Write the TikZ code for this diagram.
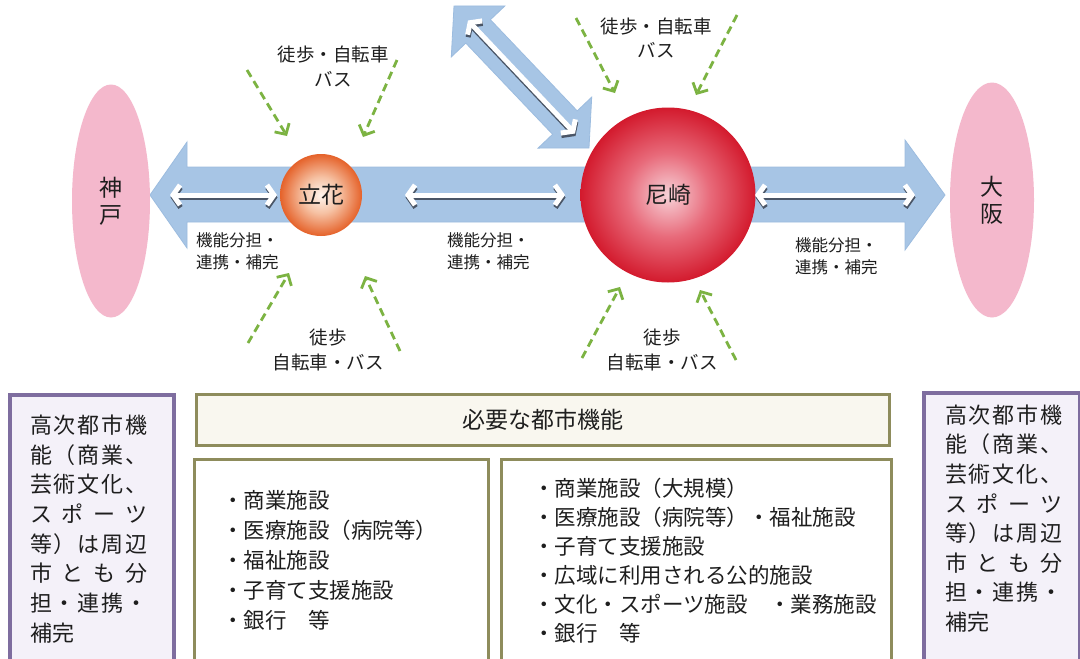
\documentclass[tikz,border=0pt]{standalone}
\usepackage{fontspec}
\setmainfont{Noto Sans CJK JP}
\usetikzlibrary{arrows.meta,calc,shapes.geometric}
\definecolor{bluef}{HTML}{A7C5E5}
\definecolor{bluee}{HTML}{9CBCDF}
\definecolor{pinkf}{HTML}{F4B8CC}
\definecolor{grn}{HTML}{7CB342}
\definecolor{orE}{HTML}{E5622A}
\definecolor{orM}{HTML}{F6C2A4}
\definecolor{orC}{HTML}{FFF5EE}
\definecolor{rdE}{HTML}{D31A2D}
\definecolor{rdM}{HTML}{E86A7A}
\definecolor{rdC}{HTML}{F7D2D8}
\definecolor{purE}{HTML}{7E6D9F}
\definecolor{purF}{HTML}{F4F1F9}
\definecolor{olv}{HTML}{8E8C5C}
\definecolor{crm}{HTML}{F9F7EF}
\definecolor{txt}{HTML}{1E1E1E}
\definecolor{shd}{HTML}{4A5566}
\pgfdeclareradialshading{orball}{\pgfpoint{0bp}{0bp}}{color(0bp)=(orC); color(11bp)=(orM); color(25bp)=(orE); color(50bp)=(orE)}
\pgfdeclareradialshading{rdball}{\pgfpoint{0bp}{0bp}}{color(0bp)=(rdC); color(12bp)=(rdM); color(25bp)=(rdE); color(50bp)=(rdE)}
\begin{document}
\begin{tikzpicture}[x=1pt,y=-1pt,
  blu/.style={fill=bluef, draw=bluee, line width=0.8pt},
  warr/.style={draw=white, line width=5pt, {Straight Barb[length=7pt,width=20pt]}-{Straight Barb[length=7pt,width=20pt]}},
  garr/.style={draw=grn, line width=2.8pt, dash pattern=on 8pt off 5pt, -{Straight Barb[length=8pt,width=17pt]}},
  lbl/.style={font=\fontsize{18.5}{24.5}\selectfont, align=center, text=txt, inner sep=0pt},
  small/.style={font=\fontsize{16.5}{22}\selectfont, align=left, text=txt, inner sep=0pt, anchor=west},
  city/.style={ellipse, fill=pinkf, inner sep=0pt, align=center, text=txt, font=\fontsize{23}{27}\selectfont},
  pbox/.style={draw=purE, line width=3.5pt, fill=purF, anchor=north west, inner sep=0pt},
  obox/.style={draw=olv, line width=3pt, anchor=north west, inner sep=0pt},
  ptext/.style={font=\fontsize{22}{25}\selectfont, text=txt, anchor=west, inner sep=0pt},
  ltext/.style={font=\fontsize{21.5}{25}\selectfont, text=txt, anchor=west, inner sep=0pt}]
\useasboundingbox (0,0) rectangle (1080,659);
\clip (0,0) rectangle (1080,659);
\fill[white] (0,0) rectangle (1080,659);

% big blue arrows
\filldraw[blu] (150,195) -- (187,142) -- (187,167) -- (905,167) -- (905,140) -- (945,195)
  -- (905,250) -- (905,222) -- (187,222) -- (187,248) -- cycle;
\filldraw[blu] (454,6) -- (504.9,5.9) -- (490.4,19.7) -- (577.2,110.9) -- (591.7,97.1) -- (589,148)
  -- (538.1,148.1) -- (552.6,134.3) -- (465.8,43.1) -- (451.3,56.9) -- cycle;

% cities
\node[city, minimum width=78pt, minimum height=233pt] (kobe) at (111,201) {神\\戸};
\node[city, minimum width=84pt, minimum height=235pt] (osaka) at (992,200) {大\\阪};

% centres
\node[circle, minimum size=82pt, inner sep=0pt, shade, shading=orball, text=txt,
  font=\fontsize{23}{26}\selectfont] (tach) at (321,195) {立花};
\node[circle, minimum size=175pt, inner sep=0pt, shade, shading=rdball, text=txt,
  font=\fontsize{23}{26}\selectfont] (ama) at (668,195) {尼崎};

% white double arrows
\coordinate (w1a) at (170,195); \coordinate (w1b) at (277,195);
\coordinate (w2a) at (405,195); \coordinate (w2b) at (565,195);
\coordinate (w3a) at (755,195); \coordinate (w3b) at (915,195);
\coordinate (w4a) at (468,20.5); \coordinate (w4b) at (575,133.5);
\foreach \a/\b in {w1a/w1b,w2a/w2b,w3a/w3b,w4a/w4b}{
  \draw[warr, draw=shd, transform canvas={xshift=0.5pt,yshift=-2.5pt}] (\a) -- (\b);
  \draw[warr] (\a) -- (\b);
}

% green dashed access arrows
\coordinate (g1s) at (247,70);  \coordinate (g1e) at (287,136);
\coordinate (g2s) at (397,60);  \coordinate (g2e) at (363,137);
\coordinate (g3s) at (248,343); \coordinate (g3e) at (289,273);
\coordinate (g4s) at (400,351); \coordinate (g4e) at (365,276);
\coordinate (g5s) at (576,18);  \coordinate (g5e) at (615,93);
\coordinate (g6s) at (737,15);  \coordinate (g6e) at (696,95);
\coordinate (g7s) at (582,358); \coordinate (g7e) at (620,287);
\coordinate (g8s) at (736,360); \coordinate (g8e) at (700,290);
\foreach \i in {1,...,8}{\draw[garr] (g\i s) -- (g\i e);}

% access labels
\node[lbl] (lt1) at (333,66.5) {徒歩・自転車\\バス};
\node[lbl] (lt2) at (328,350) {徒歩\\自転車・バス};
\node[lbl] (la1) at (656,38) {徒歩・自転車\\バス};
\node[lbl] (la2) at (662,350) {徒歩\\自転車・バス};

% function sharing labels
\node[small] (f1) at (196,251) {機能分担・\\連携・補完};
\node[small] (f2) at (447,251) {機能分担・\\連携・補完};
\node[small] (f3) at (795,256) {機能分担・\\連携・補完};

% bottom boxes
\node[pbox, minimum width=164pt, minimum height=300pt] (lbox) at (8,393) {};
\node[pbox, minimum width=156pt, minimum height=300pt] (rbox) at (922,391) {};
\node[obox, fill=crm, minimum width=693pt, minimum height=51pt, font=\fontsize{23}{26}\selectfont, text=txt] (hdr) at (195,393) {必要な都市機能};
\node[obox, fill=white, minimum width=294pt, minimum height=230pt] (lst1) at (193,458) {};
\node[obox, fill=white, minimum width=390pt, minimum height=230pt] (lst2) at (500,458) {};

\foreach \t [count=\i] in {{高\hfill 次\hfill 都\hfill 市\hfill 機},{能\hfill （\hfill 商\hfill 業\hfill 、},{芸\hfill 術\hfill 文\hfill 化\hfill 、},{ス\hfill ポ\hfill ー\hfill ツ},{等\hfill ）\hfill は\hfill 周\hfill 辺},{市\hfill と\hfill も\hfill 分},{担\hfill ・\hfill 連\hfill 携\hfill ・},{補完\hfill\null}}{
  \node[ptext] (pl\i) at (30,{425+29.7*(\i-1)}) {\hbox to 117pt{\t}};
  \node[ptext] (pr\i) at (945,{415+29.6*(\i-1)}) {\hbox to 117pt{\t}};
}

\foreach \t [count=\i] in {・商業施設,・医療施設（病院等）,・福祉施設,・子育て支援施設,・銀行　等}{
  \node[ltext] (ll\i) at (222,{500+30*(\i-1)}) {\t};
}
\foreach \t [count=\i] in {・商業施設（大規模）,・医療施設（病院等）・福祉施設,・子育て支援施設,・広域に利用される公的施設,・文化・スポーツ施設　・業務施設,・銀行　等}{
  \node[ltext] (lr\i) at (533,{488+29*(\i-1)}) {\t};
}
\end{tikzpicture}
\end{document}
